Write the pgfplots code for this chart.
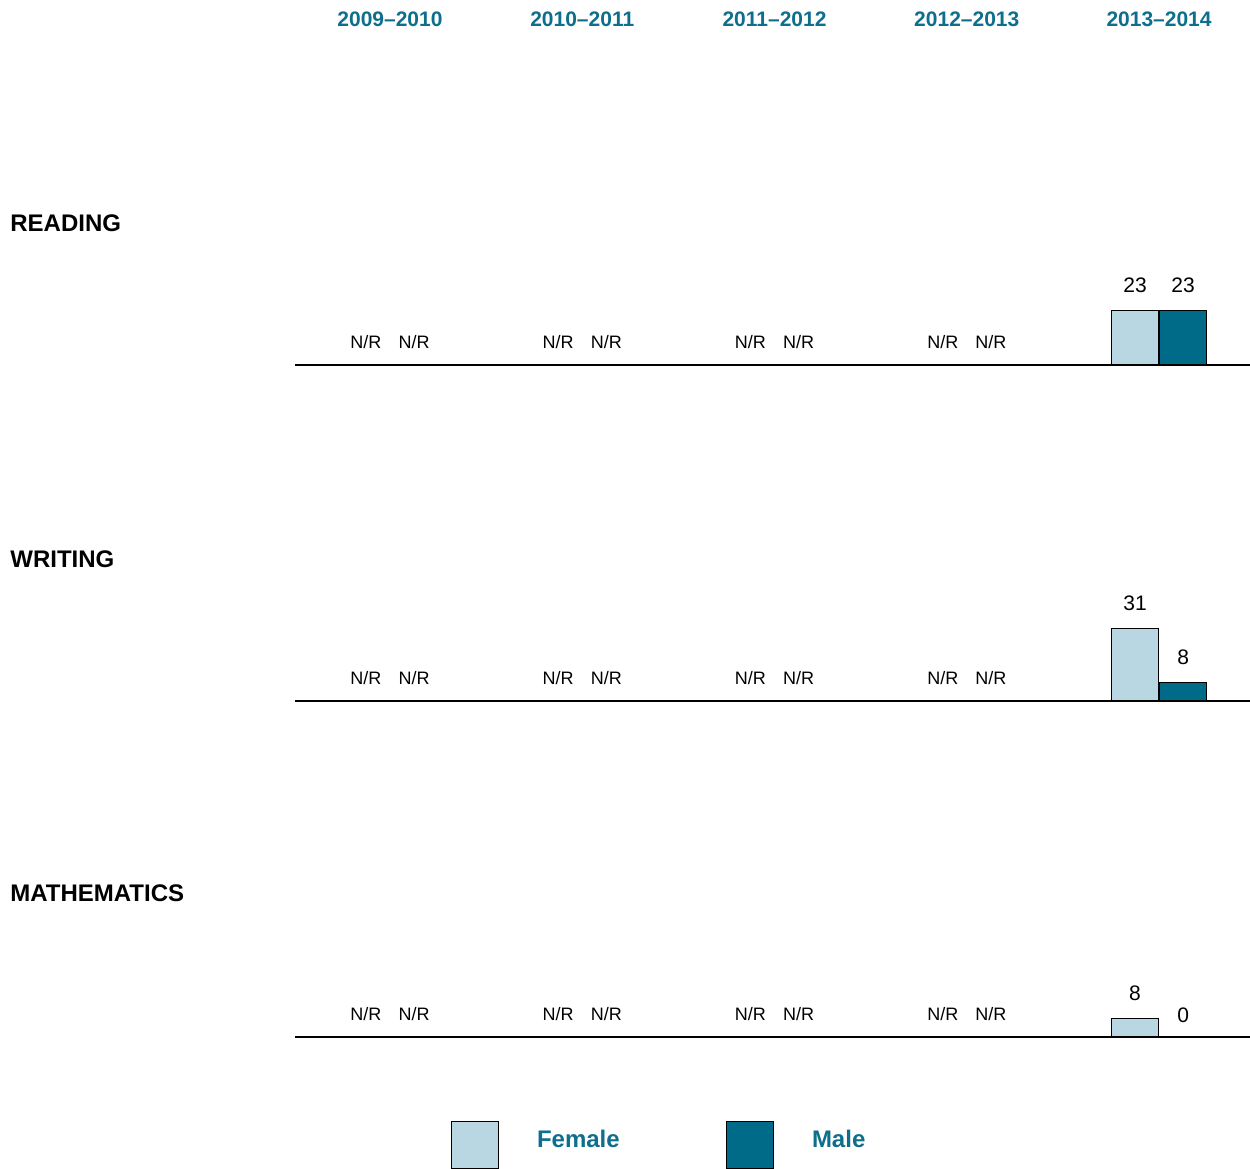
\documentclass[border=0pt]{standalone}
\usepackage{fontspec}
\setmainfont{Liberation Sans}
\usepackage{pgfplots}
\pgfplotsset{compat=1.18}

\definecolor{fem}{HTML}{B9D7E2}
\definecolor{mal}{HTML}{006A89}
\definecolor{head}{HTML}{0E6E8D}

\pgfplotsset{
  panel/.style={
    ybar, hide axis, scale only axis,
    width=477.5bp, height=70.5bp,
    xmin=-0.494, xmax=4.473, ymin=0, ymax=60,
    clip=false, anchor=south west,
    bar width=0.2445,
    point meta=explicit symbolic,
    nodes near coords,
    every node near coord/.append style={inner sep=0pt, anchor=base, text=black},
  },
  fem/.style={fill=fem, draw=black, line width=0.5bp, bar shift=-0.125,
    every node near coord/.append style={font=\fontsize{10.5bp}{12bp}\selectfont, yshift=9bp}},
  mal/.style={fill=mal, draw=black, line width=0.5bp, bar shift=0.125,
    every node near coord/.append style={font=\fontsize{10.5bp}{12bp}\selectfont, yshift=9bp}},
  nrf/.style={draw=none, fill=none, forget plot, bar shift=-0.125,
    every node near coord/.append style={font=\fontsize{9bp}{10bp}\selectfont, yshift=8.3bp}},
  nrm/.style={draw=none, fill=none, forget plot, bar shift=0.125,
    every node near coord/.append style={font=\fontsize{9bp}{10bp}\selectfont, yshift=8.3bp}},
}

\newcommand{\hd}{\fontsize{10.5bp}{12bp}\selectfont\bfseries\color{head}}
\newcommand{\rl}{\fontsize{12bp}{14bp}\selectfont\bfseries}

\begin{document}
\begin{tikzpicture}
\useasboundingbox (0,0) rectangle (625bp,584.5bp);

% READING
\begin{axis}[panel, at={(147.5bp,402bp)}]
  \addplot[nrf] coordinates {(0,0)[N/R] (1,0)[N/R] (2,0)[N/R] (3,0)[N/R]};
  \addplot[nrm] coordinates {(0,0)[N/R] (1,0)[N/R] (2,0)[N/R] (3,0)[N/R]};
  \addplot[fem] coordinates {(4,23)[23]};
  \addplot[mal] coordinates {(4,23)[23]};
  \draw[line width=0.75bp] (rel axis cs:0,0) -- (rel axis cs:1,0);
  \node[font=\hd] at (axis cs:0,0) [yshift=173bp] {2009–2010};
  \node[font=\hd] at (axis cs:1,0) [yshift=173bp] {2010–2011};
  \node[font=\hd] at (axis cs:2,0) [yshift=173bp] {2011–2012};
  \node[font=\hd] at (axis cs:3,0) [yshift=173bp] {2012–2013};
  \node[font=\hd] at (axis cs:4,0) [yshift=173bp] {2013–2014};
\end{axis}

% WRITING
\begin{axis}[panel, at={(147.5bp,234bp)}]
  \addplot[nrf] coordinates {(0,0)[N/R] (1,0)[N/R] (2,0)[N/R] (3,0)[N/R]};
  \addplot[nrm] coordinates {(0,0)[N/R] (1,0)[N/R] (2,0)[N/R] (3,0)[N/R]};
  \addplot[fem] coordinates {(4,31)[31]};
  \addplot[mal] coordinates {(4,8)[8]};
  \draw[line width=0.75bp] (rel axis cs:0,0) -- (rel axis cs:1,0);
\end{axis}

% MATHEMATICS
\begin{axis}[panel, at={(147.5bp,66bp)},
    legend columns=2,
    legend cell align=left,
    legend image code/.code={\draw[#1] (0bp,-14.25bp) rectangle (23.5bp,9.25bp);},
    legend style={at={(0.16335,-0.766)}, anchor=west, draw=none, fill=none,
      inner sep=0pt, outer sep=0pt, column sep=19bp,
      font=\fontsize{12bp}{14bp}\selectfont\bfseries, text=head,
      nodes={inner sep=0pt, text width=75.5bp, align=left}},
  ]
  \addplot[nrf] coordinates {(0,0)[N/R] (1,0)[N/R] (2,0)[N/R] (3,0)[N/R]};
  \addplot[nrm] coordinates {(0,0)[N/R] (1,0)[N/R] (2,0)[N/R] (3,0)[N/R]};
  \addplot[fem] coordinates {(4,8)[8]};
  \addlegendentry{Female}
  \addplot[mal, every node near coord/.append style={yshift=-1.76bp}] coordinates {(4,0)[0]};
  \addlegendentry{Male}
  \draw[line width=0.75bp] (rel axis cs:0,0) -- (rel axis cs:1,0);
\end{axis}

\node[font=\rl, anchor=west, inner sep=0pt] at (5bp,473bp) {READING};
\node[font=\rl, anchor=west, inner sep=0pt] at (5bp,305bp) {WRITING};
\node[font=\rl, anchor=west, inner sep=0pt] at (5bp,138bp) {MATHEMATICS};
\end{tikzpicture}
\end{document}
